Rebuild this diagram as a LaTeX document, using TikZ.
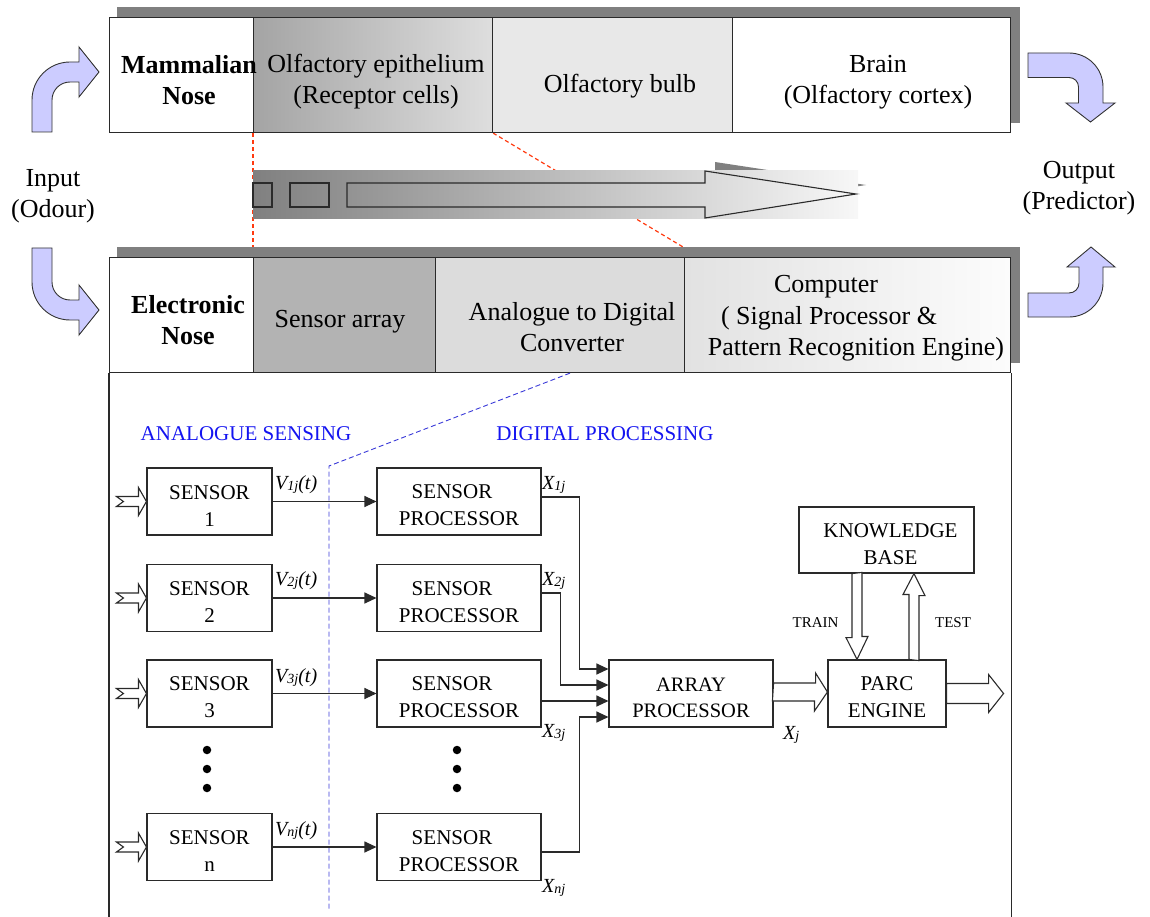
\documentclass[tikz,border=0pt]{standalone}
\usepackage{fontspec}
\setmainfont{Liberation Serif}
\usetikzlibrary{arrows.meta}
\pgfdeclarelayer{background}
\pgfsetlayers{background,main}
\definecolor{shadowgray}{HTML}{808080}
\definecolor{lav}{HTML}{CCCCFF}
\definecolor{redash}{HTML}{FF3A10}
\definecolor{bluedash}{HTML}{3838D8}
\definecolor{labelblue}{HTML}{1414F0}
\definecolor{epiL}{HTML}{A4A4A4}
\definecolor{epiR}{HTML}{DEDEDE}
\definecolor{bulbfill}{HTML}{E8E8E8}
\definecolor{sarrfill}{HTML}{B3B3B3}
\definecolor{adcfill}{HTML}{DCDCDC}
\definecolor{compL}{HTML}{E2E2E2}
\definecolor{compR}{HTML}{FCFCFC}
\definecolor{edge}{HTML}{2A2A2A}
% strut that lowers two-line block labels a little
\newcommand\lift{\rule{0pt}{22pt}}
% small, slightly lowered index
\newcommand\idx[1]{\raisebox{-1.5pt}{\fontsize{14}{14}\selectfont #1}}
\begin{document}
\begin{tikzpicture}[x=1pt,y=-1pt,
  cell/.style={draw=edge, line width=1.1pt, inner sep=0pt, anchor=north west, minimum height=115pt},
  big/.style={font=\fontsize{26}{31}\selectfont, align=center, inner sep=0pt},
  bigbold/.style={font=\fontsize{26}{31}\selectfont\bfseries, align=center, inner sep=0pt},
  blk/.style={draw=edge, line width=1.1pt, fill=white, align=center, inner sep=0pt,
    minimum height=67pt, font=\fontsize{21}{27}\selectfont},
  sig/.style={draw=edge, line width=1.1pt, -{Triangle[length=12pt,width=11pt]}},
  hollow/.style={draw=edge, line width=1.1pt, fill=white, line join=miter},
  bent/.style={draw=black!80, line width=0.9pt, fill=lav},
  vlab/.style={font=\fontsize{20}{24}\selectfont\itshape, inner sep=0pt, anchor=base west},
  small/.style={font=\fontsize{15}{18}\selectfont, inner sep=0pt, anchor=base},
  zone/.style={font=\fontsize{21}{25}\selectfont, text=labelblue, inner sep=0pt},
  dot/.style={circle, fill=black, inner sep=0pt, minimum size=8.5pt},
  reddash/.style={redash, line width=1.2pt, dash pattern=on 4pt off 3pt},
]
\useasboundingbox (0,0) rectangle (1150,917);

% ---------------- mammalian nose ----------------
\fill[shadowgray] (117,7) rectangle (1020,123);
\node[cell, fill=white, minimum width=144pt] (mam) at (109,17) {};
\node[cell, left color=epiL, right color=epiR, minimum width=239pt] (epi) at (253,17) {};
\node[cell, fill=bulbfill, minimum width=240pt] (bulb) at (492,17) {};
\node[cell, fill=white, minimum width=278pt] (brain) at (732,17) {};
\node[bigbold] (tmam) at (189,80) {Mammalian\\Nose};
\node[big] (tepi) at (376,82) {Olfactory epithelium\\(Receptor cells)};
\node[big] (tbulb) at (620,86) {Olfactory bulb};
\node[big] (tbrain) at (878,82) {Brain\\(Olfactory cortex)};

% ---------------- correspondence band ----------------
\fill[shadowgray] (715,162) -- (866,185) -- (715,209) -- cycle;
\shade[left color=shadowgray, right color=black!3] (253,171) rectangle (858,219);
\draw[edge, line width=1.1pt] (253,183) rectangle (272,207);
\draw[edge, line width=1.1pt] (290,183) rectangle (329,207);
\draw[edge, line width=1.1pt, line join=miter]
  (347,183) -- (705,183) -- (705,171) -- (856,194) -- (705,218) -- (705,207) -- (347,207) -- cycle;

% ---------------- electronic nose ----------------
\fill[shadowgray] (117,247) rectangle (1020,363);
\node[cell, fill=white, minimum width=144pt] (enose) at (109,257) {};
\node[cell, fill=sarrfill, minimum width=182pt] (sarr) at (253,257) {};
\node[cell, fill=adcfill, minimum width=249pt] (adc) at (435,257) {};
\node[cell, left color=compL, right color=compR, minimum width=326pt] (comp) at (684,257) {};
\draw[edge, line width=1.1pt] (enose.south west) -- ++(0,545);
\draw[edge, line width=1.1pt] (comp.south east) -- ++(0,545);
\node[bigbold] (tenose) at (188,320) {Electronic\\Nose};
\node[big] (tsarr) at (340,322) {Sensor array};
\node[big] (tadc) at (572,327) {Analogue to Digital\\Converter};
\node[big] (tc1) at (826,287) {Computer};
\node[big] (tc2) at (829,318) {( Signal Processor \&};
\node[big] (tc3) at (856,349) {Pattern Recognition Engine)};

% dashed guides linking the two rows
\coordinate (redend) at (683,247);
\coordinate (bluebend) at (329,466);
\coordinate (blueend) at (329,910);
\begin{pgfonlayer}{background}
  \draw[reddash] (epi.south west) -- (sarr.north west);
  \draw[reddash] (epi.south east) -- (redend);
\end{pgfonlayer}
\draw[bluedash, line width=0.9pt, dash pattern=on 5pt off 3pt] ([xshift=10pt]adc.south) -- (bluebend) -- (blueend);

\node[zone] (lana) at (246,434) {ANALOGUE SENSING};
\node[zone] (ldig) at (605,434) {DIGITAL PROCESSING};

% ---------------- sensor chain ----------------
\node[blk, minimum width=125pt] (s1) at (209.5,501.5) {\lift SENSOR\\1};
\node[blk, minimum width=125pt] (s2) at (209.5,598) {\lift SENSOR\\2};
\node[blk, minimum width=125pt] (s3) at (209.5,693.5) {\lift SENSOR\\3};
\node[blk, minimum width=125pt] (sn) at (209.5,847) {\lift SENSOR\\n};
\node[blk, minimum width=164pt] (p1) at (459,501.5) {\lift SENSOR\hspace*{14pt}\\PROCESSOR};
\node[blk, minimum width=164pt] (p2) at (459,598) {\lift SENSOR\hspace*{14pt}\\PROCESSOR};
\node[blk, minimum width=164pt] (p3) at (459,693.5) {\lift SENSOR\hspace*{14pt}\\PROCESSOR};
\node[blk, minimum width=164pt] (pn) at (459,847) {\lift SENSOR\hspace*{14pt}\\PROCESSOR};
\node[blk, minimum width=164pt, font=\fontsize{20.5}{26}\selectfont] (arr) at (691,693.5) {\lift ARRAY\\PROCESSOR};
\node[blk, minimum width=118pt] (parc) at (887,693.5) {\lift PARC\\ENGINE};
\node[blk, minimum width=175pt, minimum height=66pt] (kb) at (886.5,540)
  {\lift\hspace*{8pt}KNOWLEDGE\\\hspace*{8pt}BASE};

\foreach \d [count=\i] in {750,769,788} {
  \node[dot] (dl\i) at (207,\d) {};
  \node[dot] (dr\i) at (457,\d) {};
}

% odour inputs
\foreach \s in {s1,s2,s3,sn}
  \draw[hollow] (\s.west) -- ++(-8,-14) -- ++(0,9) -- ++(-22,0) -- ++(7,5) -- ++(-7,5) -- ++(22,0) -- ++(0,9) -- cycle;

% sensor signals
\draw[sig] (s1.east) -- (p1.west);
\draw[sig] (s2.east) -- (p2.west);
\draw[sig] (s3.east) -- (p3.west);
\draw[sig] (sn.east) -- (pn.west);
\node[vlab] (v1) at (275,489) {V\idx{1j}(t)};
\node[vlab] (v2) at (275,585) {V\idx{2j}(t)};
\node[vlab] (v3) at (275,682) {V\idx{3j}(t)};
\node[vlab] (vn) at (275,835) {V\idx{nj}(t)};

% processed features to the array processor
\draw[sig] ([yshift=4.5pt]p1.east) -- ++(38,0) |- ([yshift=24.5pt]arr.west);
\draw[sig] ([yshift=5pt]p2.east) -- ++(19,0) |- ([yshift=8.5pt]arr.west);
\draw[sig] ([yshift=-7.5pt]p3.east) -- ([yshift=-7.5pt]arr.west);
\draw[sig] ([yshift=-5pt]pn.east) -- ++(38,0) |- ([yshift=-23.5pt]arr.west);
\node[vlab] (x1) at (542,489) {X\idx{1j}};
\node[vlab] (x2) at (542,585) {X\idx{2j}};
\node[vlab] (x3) at (542,737) {X\idx{3j}};
\node[vlab] (xn) at (542,892) {X\idx{nj}};
\node[vlab] (xj) at (783,739) {X\idx{j}};

% array processor to PARC engine
\draw[hollow] ([yshift=1.5pt]arr.east) ++(0,-9) -- ++(42,0) -- ++(0,-10) -- ([yshift=1.5pt]parc.west)
  -- ++(-13,19) -- ++(0,-10) -- ++(-42,0) -- cycle;
% train / test exchange with the knowledge base
\draw[hollow] ([xshift=-34.5pt]kb.south) -- ++(0,64) -- ++(-6,0) -- ([xshift=-30pt]parc.north)
  -- ++(11,-23) -- ++(-6,0) -- ++(0,-64) -- cycle;
\draw[hollow] ([xshift=22pt]parc.north) -- ++(0,-65) -- ++(-6,0) -- ([xshift=27.5pt]kb.south)
  -- ++(11,22) -- ++(-6,0) -- ++(0,65) -- cycle;
\node[small] (train) at (815.5,627) {TRAIN};
\node[small] (test) at (953,627) {TEST};
% PARC output
\draw[hollow] (parc.east) ++(0,-10) -- ++(42,0) -- ++(0,-9) -- ++(15,19) -- ++(-15,19) -- ++(0,-9) -- ++(-42,0) -- cycle;

% ---------------- input / output bent arrows ----------------
\draw[bent] (32,132) -- (32,100) arc[start angle=180,end angle=270,radius=38] -- (79,62) -- (79,47)
  -- (99,72) -- (79,97) -- (79,82) -- (70,82) arc[start angle=270,end angle=180,radius=18] -- (52,132) -- cycle;
\draw[bent] (32,248) -- (32,282) arc[start angle=180,end angle=90,radius=38] -- (79,320) -- (79,335)
  -- (99,310) -- (79,285) -- (79,300) -- (70,300) arc[start angle=90,end angle=180,radius=18] -- (52,248) -- cycle;
\draw[bent] (1028,53) -- (1069,53) arc[start angle=270,end angle=360,radius=34] -- (1103,103) -- (1115,103)
  -- (1090.5,122) -- (1066,103) -- (1078.5,103) -- (1078.5,87) arc[start angle=0,end angle=-90,radius=9.5] -- (1028,77.5) -- cycle;
\draw[bent] (1028,317) -- (1069,317) arc[start angle=90,end angle=0,radius=34] -- (1103,267) -- (1115,267)
  -- (1091,247) -- (1067,267) -- (1079,267) -- (1079,283) arc[start angle=0,end angle=90,radius=10] -- (1028,293) -- cycle;
\node[big] (tin) at (53,196) {Input\\(Odour)};
\node[big] (tout) at (1079,188) {Output\\(Predictor)};
\end{tikzpicture}
\end{document}
